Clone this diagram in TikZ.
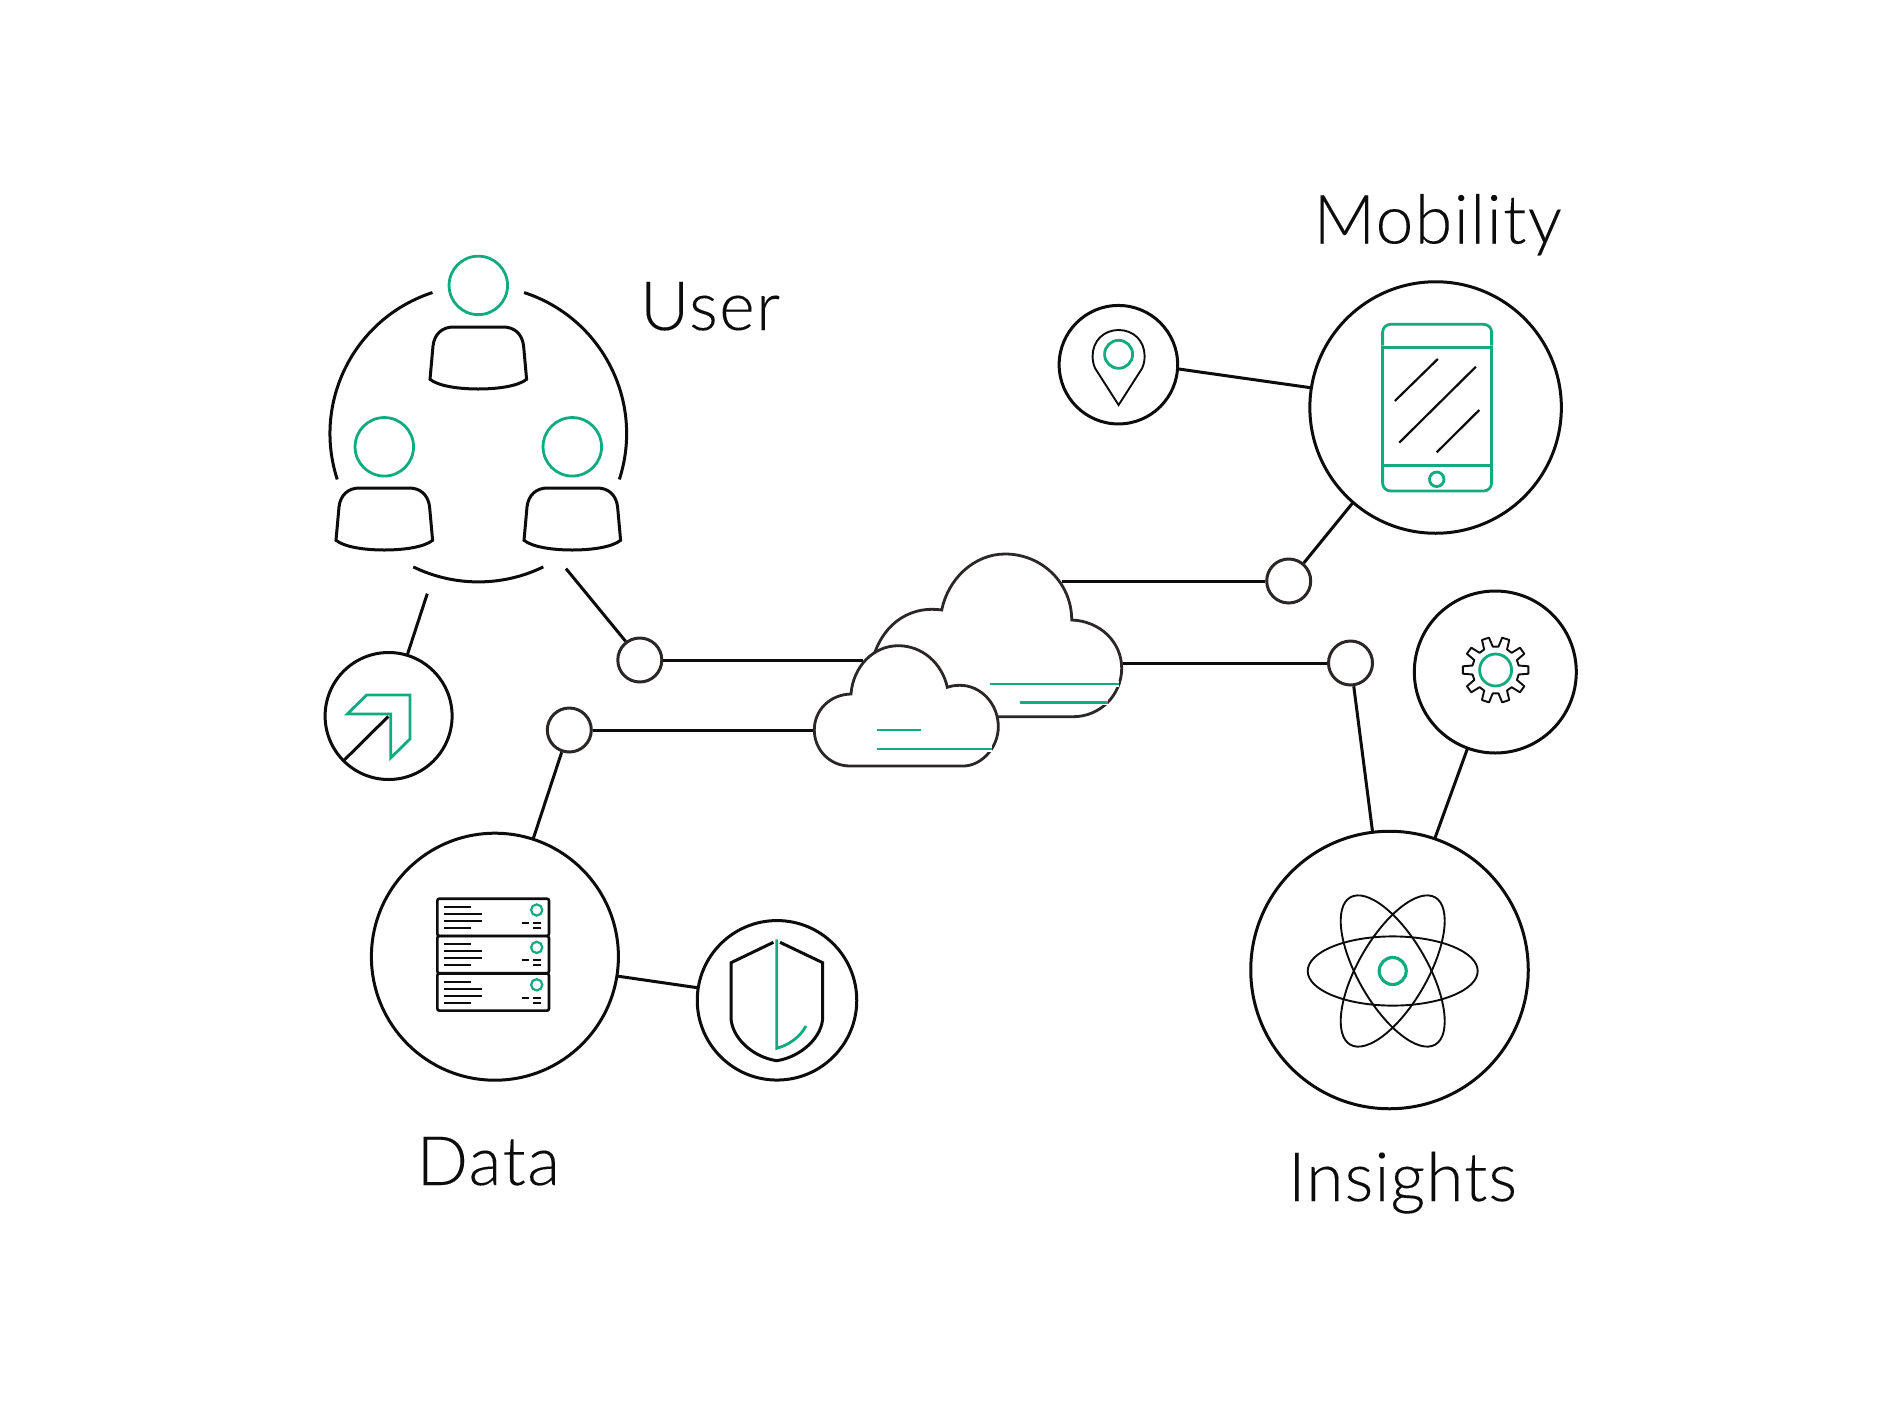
\documentclass[tikz,border=0pt]{standalone}
\usepackage{fontspec}
\newfontfamily\lab[LetterSpace=2,FakeBold=0.12]{Lato Light}
\newfontfamily\labB[LetterSpace=1.4,FakeBold=0.12]{Lato Light}
\definecolor{gr}{HTML}{12AB80}
\definecolor{ink}{HTML}{0C0C0C}
\definecolor{soft}{HTML}{2B2727}
\tikzset{
  ring/.style={circle,draw=ink,line width=3pt,inner sep=0pt,outer sep=0pt,fill=white},
  junction/.style={circle,draw=soft,line width=3pt,inner sep=0pt,outer sep=0pt,minimum size=44pt,fill=white},
  greenring/.style={circle,draw=gr,line width=2.8pt,inner sep=0pt,outer sep=0pt},
  conn/.style={draw=ink,line width=3pt},
  lineK/.style={draw=ink,line width=3pt},
  thinK/.style={draw=ink,line width=1.9pt},
  lineG/.style={draw=gr,line width=2.8pt},
  halo/.style={preaction={draw=white,line width=6pt,line cap=butt}},
  title/.style={inner sep=0pt,outer sep=0pt,anchor=base west,text=ink,font=\lab\fontsize{68}{80}\selectfont}
}
\newcommand{\usrbody}[2]{%
  \draw[lineK,shift={(#1,#2)}] (-48.3,52.3) -- (-45.3,19) .. controls (-44,7) and (-36,0) .. (-25,0) -- (25,0) .. controls (36,0) and (44,7) .. (45.3,19) -- (48.3,52.3) .. controls (40,59) and (20,62) .. (0,62) .. controls (-20,62) and (-40,59) .. (-48.3,52.3) -- cycle;}
\newcommand{\srvrow}[1]{%
  \begin{scope}[shift={(0,#1)}]
  \draw[lineK,rounded corners=2pt,line width=2.6pt] (437.3,898.7) rectangle (549,935.8);
  \draw[ink,line width=2pt] (444,906.7) -- (471,906.7) (444,913.7) -- (481.7,913.7) (444,920.7) -- (481.7,920.7) (444,928) -- (471,928);
  \draw[ink,line width=2pt] (521.7,922.7) -- (529.3,922.7) (533,922.7) -- (541,922.7) (533,928) -- (541,928);
  \draw[draw=gr,line width=2.2pt] (536.7,910) circle[radius=5.6];
  \end{scope}}
\begin{document}
\begin{tikzpicture}[x=1pt,y=-1pt]
\useasboundingbox (0,0) rectangle (1900,1400);
\fill[white] (0,0) rectangle (1900,1400);

% ---------- user group
\draw[lineK] (478.3,433.6) ++(-72:148.3) arc[start angle=-72,end angle=18,radius=148.3];
\draw[lineK] (478.3,433.6) ++(252:148.3) arc[start angle=252,end angle=162,radius=148.3];
\draw[lineK] (478.3,433.6) ++(116:148.3) arc[start angle=116,end angle=64,radius=148.3];
\node[greenring,minimum size=58.5pt] (headT) at (478.3,285.4) {};
\node[greenring,minimum size=58.5pt] (headL) at (384.3,446.8) {};
\node[greenring,minimum size=58.5pt] (headR) at (572.3,446.8) {};
\usrbody{478.3}{327}
\usrbody{384.3}{488}
\usrbody{572.3}{488}
\coordinate (uFreeA) at (427.3,593.6);
\coordinate (uFreeB) at (566,568.6);

% ---------- circles
\node[ring,minimum size=127pt] (arrowC) at (388.6,716) {};
\node[ring,minimum size=247pt] (dataC) at (494.9,956.7) {};
\node[ring,minimum size=159.5pt] (shieldC) at (777,1000.3) {};
\node[ring,minimum size=251.5pt] (mobileC) at (1435.6,407.5) {};
\node[ring,minimum size=118.5pt] (pinC) at (1118.4,364.7) {};
\node[ring,minimum size=162pt] (gearC) at (1495.3,672) {};
\node[ring,minimum size=277.5pt] (atomC) at (1389.5,970) {};
\node[junction] (j1) at (639.8,660) {};
\node[junction] (j2) at (569.3,730) {};
\node[junction] (j3) at (1288.7,581) {};
\node[junction] (j4) at (1350.5,663) {};

% ---------- clouds
\draw[draw=soft,line width=2.8pt,fill=white] (872,662) .. controls (880,628) and (906,605) .. (941.7,610)
  .. controls (948,579) and (974,554) .. (1005,554) .. controls (1042,554) and (1071.7,583) .. (1071.7,620)
  .. controls (1100,621) and (1121.7,642) .. (1121.7,668.3) .. controls (1121.7,695) and (1100,716.7) .. (1073.3,716.7) -- (980,716.7);
\draw[draw=soft,line width=2.8pt,fill=white] (850,766) .. controls (830,766) and (814.3,750) .. (814.3,730)
  .. controls (814.3,710) and (830,694.5) .. (851,694) .. controls (853,667) and (873,645.7) .. (898.3,645.7)
  .. controls (922,645.7) and (942,663) .. (947.3,687.3) .. controls (951,686) and (955,685.3) .. (960,685.3)
  .. controls (981,685.3) and (998.3,704) .. (998.3,726.7) .. controls (998.3,748) and (981,766) .. (963.3,766) -- cycle;
\draw[lineG,halo] (990,684) -- (1119.3,684);
\draw[lineG,halo] (1020,702.3) -- (1108.3,702.3);
\draw[lineG] (876.7,730) -- (920.7,730);
\draw[lineG,halo] (876.7,749) -- (991.7,749);
\coordinate (cloudA) at (862.7,660);
\coordinate (cloudB) at (812.7,730);
\coordinate (cloudC) at (1061.7,581);
\coordinate (cloudD) at (1123.3,663);

% ---------- connectors
\draw[conn] (uFreeA) -- (arrowC.73);
\draw[conn,shorten >=1.5pt] (uFreeB) -- (j1.127.6);
\draw[conn,shorten <=1.5pt] (j1.0) -- (cloudA);
\draw[conn,shorten <=1.5pt] (j2.0) -- (cloudB);
\draw[conn,shorten <=1.5pt] (j2.-109) -- (dataC.72.5);
\draw[conn] (dataC.-9.5) -- (shieldC.171.6);
\draw[conn,shorten >=1.5pt] (cloudC) -- (j3.180);
\draw[conn,shorten <=1.5pt] (j3.50.5) -- (mobileC.229.7);
\draw[conn] (pinC.-4.9) -- (mobileC.171.8);
\draw[conn,shorten >=1.5pt] (cloudD) -- (j4.180);
\draw[conn,shorten <=1.5pt] (j4.-82) -- (atomC.97.6);
\draw[conn] (gearC.250.4) -- (atomC.71);

% ---------- arrow icon
\draw[lineG,line join=miter] (347.3,714) -- (366.7,695) -- (410,695) -- (410,739) -- (390.7,757.9) -- (390.7,714) -- cycle;
\draw[lineK] (388.3,716.4) -- (343.3,761);

% ---------- tablet
\draw[lineG,rounded corners=8pt] (1382.6,345.5) -- (1382.6,324.3) -- (1491.6,324.3) -- (1491.6,345.5);
\draw[lineG] (1382.6,347.3) rectangle (1491.6,465.3);
\draw[lineG,rounded corners=8pt] (1382.6,467) -- (1382.6,491) -- (1491.6,491) -- (1491.6,467);
\node[greenring,minimum size=14.5pt] (homeB) at (1436.7,479.3) {};
\draw[lineK,line width=2.2pt] (1394.8,401) -- (1437.8,359);
\draw[lineK,line width=2.2pt] (1399.2,442.7) -- (1475.9,366.7);
\draw[lineK,line width=2.2pt] (1436.7,452.3) -- (1479.3,410);

% ---------- pin
\draw[thinK,line join=miter] (1118.6,405) -- (1095.1,368.3) .. controls (1093.2,364) and (1092.6,360) .. (1092.6,356) .. controls (1092.6,341) and (1103.7,330) .. (1118.6,330) .. controls (1133.7,330) and (1144.6,341) .. (1144.6,356) .. controls (1144.6,360) and (1144,364) .. (1142.1,368.3) -- cycle;
\node[greenring,minimum size=28pt] (pinG) at (1118.6,354.3) {};

% ---------- server rack
\srvrow{0}
\srvrow{37.4}
\srvrow{74.8}

% ---------- shield
\draw[lineK,line join=miter] (773.4,942.3) -- (731,962.7) -- (731,1016.7) .. controls (731,1037) and (752,1057) .. (776.7,1060.7) .. controls (801,1057) and (822.7,1037) .. (822.7,1016.7) -- (822.7,962.7) -- (780,942.3);
\draw[lineG] (776.7,939.3) -- (776.7,1048.3) .. controls (789,1045) and (800,1037) .. (806,1026);

% ---------- gear
\begin{scope}[shift={(1495.6,670)}]
\draw[thinK,line join=round] (-11:23.5) \foreach \a in {0,36,...,324}{ -- (\a-11:23.5) -- (\a-6.5:33) -- (\a+6.5:33) -- (\a+11:23.5) arc[start angle=\a+11,end angle=\a+25,radius=23.5] } -- cycle;
\end{scope}
\node[greenring,minimum size=32pt] (gearG) at (1495.6,670) {};

% ---------- atom
\draw[thinK] (1392.7,971) circle[x radius=85,y radius=34.6];
\draw[thinK] (1392.7,971) circle[x radius=85,y radius=34.6,rotate=60];
\draw[thinK] (1392.7,971) circle[x radius=85,y radius=34.6,rotate=-60];
\node[greenring,minimum size=27pt,line width=3.2pt] (atomG) at (1392.7,971) {};

% ---------- labels
\node[title] (lblUser) at (640,330) {User};
\node[title] (lblMobility) at (1313.5,243.5) {Mobility};
\node[title] (lblData) at (416.5,1185) {Data};
\node[title,font=\labB\fontsize{68}{80}\selectfont] (lblInsights) at (1288,1201) {Insights};
\end{tikzpicture}
\end{document}
